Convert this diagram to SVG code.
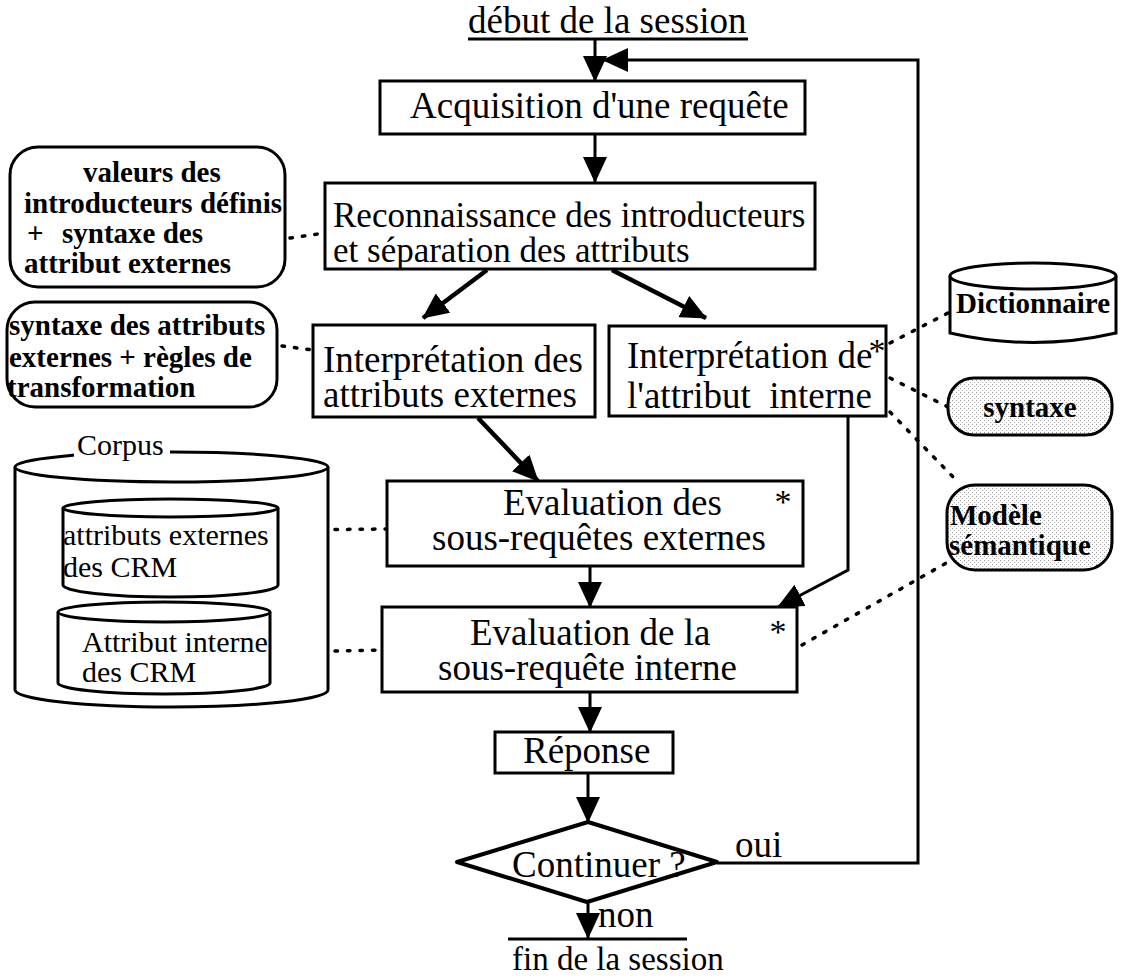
<svg xmlns="http://www.w3.org/2000/svg" width="1121" height="977" viewBox="0 0 1121 977">
  <style>
    .t { font-family: "Liberation Serif", "Times New Roman", serif; fill: #000; }
    .m { font-size: 37px; }
    .s { font-size: 30px; }
    .b { font-size: 29px; font-weight: bold; }
    .box { fill: #fff; stroke: #000; stroke-width: 3; }
    .note { fill: #fff; stroke: #000; stroke-width: 3; }
    .grey { fill: url(#stip); stroke: #000; stroke-width: 3; }
    .cyl { fill: #fff; stroke: #000; stroke-width: 3; }
    .flow { fill: none; stroke: #000; stroke-width: 3; marker-end: url(#ah); }
    .thick { fill: none; stroke: #000; stroke-width: 4.5; marker-end: url(#ah); }
    .plain { fill: none; stroke: #000; stroke-width: 3; }
    .dot { fill: none; stroke: #000; stroke-width: 3.5; stroke-dasharray: 2.5 10; stroke-linecap: round; }
  </style>
  <defs>
    <marker id="ah" viewBox="0 0 26 24" refX="25" refY="12" markerWidth="26" markerHeight="24" markerUnits="userSpaceOnUse" orient="auto">
      <path d="M0,0 L26,12 L0,24 z" fill="#000"/>
    </marker>
    <pattern id="stip" width="4" height="4" patternUnits="userSpaceOnUse">
      <rect width="4" height="4" fill="#fff"/>
      <rect x="0" y="0" width="1" height="1" fill="#9a9a9a"/>
      <rect x="2" y="2" width="1" height="1" fill="#b0b0b0"/>
    </pattern>
  </defs>
  <rect width="1121" height="977" fill="#fff"/>

  <!-- connectors -->
  <g id="connectors">
    <!-- start / end rules -->
    <line class="plain" x1="468" y1="39" x2="748" y2="39" stroke-width="2"/>
    <line class="plain" x1="508" y1="939" x2="687" y2="939" stroke-width="2.5"/>
    <!-- main flow -->
    <line class="flow" x1="595" y1="40" x2="595" y2="81"/>
    <path class="flow" d="M717,863 H918 V60 H603"/>
    <line class="flow" x1="595" y1="134" x2="595" y2="182"/>
    <line class="thick" x1="487" y1="270" x2="423" y2="318"/>
    <line class="thick" x1="612" y1="270" x2="706" y2="318"/>
    <line class="thick" x1="478" y1="418" x2="538" y2="481"/>
    <line class="flow" x1="590" y1="566" x2="590" y2="607"/>
    <path class="flow" d="M848,416 V570 L778,607"/>
    <line class="flow" x1="590" y1="692" x2="590" y2="732"/>
    <line class="flow" x1="588" y1="773" x2="588" y2="822"/>
    <line class="flow" x1="588" y1="902" x2="588" y2="938"/>
    <!-- data links -->
    <line class="dot" x1="290" y1="238" x2="325" y2="233"/>
    <line class="dot" x1="282" y1="346" x2="313" y2="350"/>
    <line class="dot" x1="285" y1="530" x2="387" y2="529"/>
    <line class="dot" x1="285" y1="652" x2="382" y2="650"/>
    <line class="dot" x1="890" y1="343" x2="950" y2="312"/>
    <line class="dot" x1="890" y1="378" x2="950" y2="408"/>
    <line class="dot" x1="890" y1="412" x2="956" y2="480"/>
    <line class="dot" x1="802" y1="645" x2="948" y2="562"/>
  </g>

  <!-- session start -->
  <g id="debut">
    <text class="t m" x="468" y="33">début de la session</text>
  </g>

  <g id="acquisition">
    <rect class="box" x="380" y="81" width="425" height="53"/>
    <text class="t m" x="410" y="118">Acquisition d'une requête</text>
  </g>

  <g id="reconnaissance">
    <rect class="box" x="325" y="183" width="490" height="86"/>
    <text class="t" font-size="35" x="333" y="227">Reconnaissance des introducteurs</text>
    <text class="t" font-size="35" x="333" y="262">et séparation des attributs</text>
  </g>

  <g id="interp-externes">
    <rect class="box" x="313" y="325" width="282" height="92"/>
    <text class="t m" x="323" y="372">Interprétation des</text>
    <text class="t m" x="323" y="407">attributs externes</text>
  </g>

  <g id="interp-interne">
    <rect class="box" x="609" y="326" width="277" height="90"/>
    <text class="t m" x="627" y="368">Interprétation de</text>
    <text class="t m" x="627" y="408" xml:space="preserve">l'attribut  interne</text>
    <text class="t" font-size="34" x="877" y="362" text-anchor="middle">*</text>
  </g>

  <g id="eval-externes">
    <rect class="box" x="387" y="481" width="416" height="85"/>
    <text class="t m" x="503" y="515">Evaluation des</text>
    <text class="t m" x="432" y="550">sous-requêtes externes</text>
    <text class="t" font-size="34" x="783" y="513" text-anchor="middle">*</text>
  </g>

  <g id="eval-interne">
    <rect class="box" x="382" y="607" width="415" height="85"/>
    <text class="t m" x="470" y="645">Evaluation de la</text>
    <text class="t m" x="438" y="680">sous-requête interne</text>
    <text class="t" font-size="34" x="778" y="643" text-anchor="middle">*</text>
  </g>

  <g id="reponse">
    <rect class="box" x="495" y="732" width="178" height="41"/>
    <text class="t m" x="523" y="763">Réponse</text>
  </g>

  <g id="continuer">
    <polygon points="457,862 588,822 717,862 587,902" fill="#fff" stroke="#000" stroke-width="4" stroke-linejoin="round"/>
    <text class="t m" x="512" y="877">Continuer ?</text>
    <text class="t m" x="735" y="857">oui</text>
    <text class="t m" x="598" y="927">non</text>
  </g>

  <g id="fin">
    <text class="t" font-size="33" x="512" y="970">fin de la session</text>
  </g>

  <!-- knowledge sources, left -->
  <g id="valeurs-introducteurs">
    <rect class="note" x="10" y="147" width="275" height="140" rx="28"/>
    <text class="t b" x="83" y="182">valeurs des</text>
    <text class="t b" x="24" y="213">introducteurs définis</text>
    <text class="t b" x="27" y="243">+</text>
    <text class="t b" x="62" y="243">syntaxe des</text>
    <text class="t b" x="24" y="273">attribut externes</text>
  </g>

  <g id="syntaxe-transformation">
    <rect class="note" x="7" y="302" width="270" height="105" rx="28"/>
    <text class="t b" font-size="30" x="9" y="335">syntaxe des attributs</text>
    <text class="t b" font-size="30" x="9" y="367">externes + règles de</text>
    <text class="t b" font-size="30" x="7" y="397">transformation</text>
  </g>

  <g id="corpus">
    <path class="cyl" d="M15,467 V690 A156.5,17 0 0 0 328,690 V467"/>
    <ellipse class="cyl" cx="171.5" cy="467" rx="156.5" ry="15"/>
    <rect x="74" y="436" width="96" height="22" fill="#fff"/>
    <text class="t s" x="77" y="455">Corpus</text>
  </g>

  <g id="crm-externes">
    <path class="cyl" d="M63,508 V585 A107.5,12 0 0 0 278,585 V508"/>
    <ellipse class="cyl" cx="170.5" cy="508" rx="107.5" ry="9"/>
    <text class="t s" x="63" y="545">attributs externes</text>
    <text class="t s" x="63" y="577">des CRM</text>
  </g>

  <g id="crm-interne">
    <path class="cyl" d="M58,612 V683 A106,11 0 0 0 270,683 V612"/>
    <ellipse class="cyl" cx="164" cy="612" rx="106" ry="10"/>
    <text class="t s" x="82" y="652">Attribut interne</text>
    <text class="t s" x="82" y="682">des CRM</text>
  </g>

  <!-- knowledge sources, right -->
  <g id="dictionnaire">
    <path class="cyl" d="M950,276 V333 Q1033,352 1116,333 V276"/>
    <ellipse class="cyl" cx="1033" cy="276" rx="83" ry="13"/>
    <text class="t b" x="1033" y="313" text-anchor="middle">Dictionnaire</text>
  </g>

  <g id="syntaxe">
    <rect class="grey" x="948" y="378" width="164" height="57" rx="26"/>
    <text class="t b" font-size="30" x="1030" y="417" text-anchor="middle">syntaxe</text>
  </g>

  <g id="modele-semantique">
    <rect class="grey" x="947" y="485" width="165" height="85" rx="28"/>
    <text class="t b" font-size="31" x="950" y="525">Modèle</text>
    <text class="t b" font-size="31" x="949" y="555">sémantique</text>
  </g>
</svg>
